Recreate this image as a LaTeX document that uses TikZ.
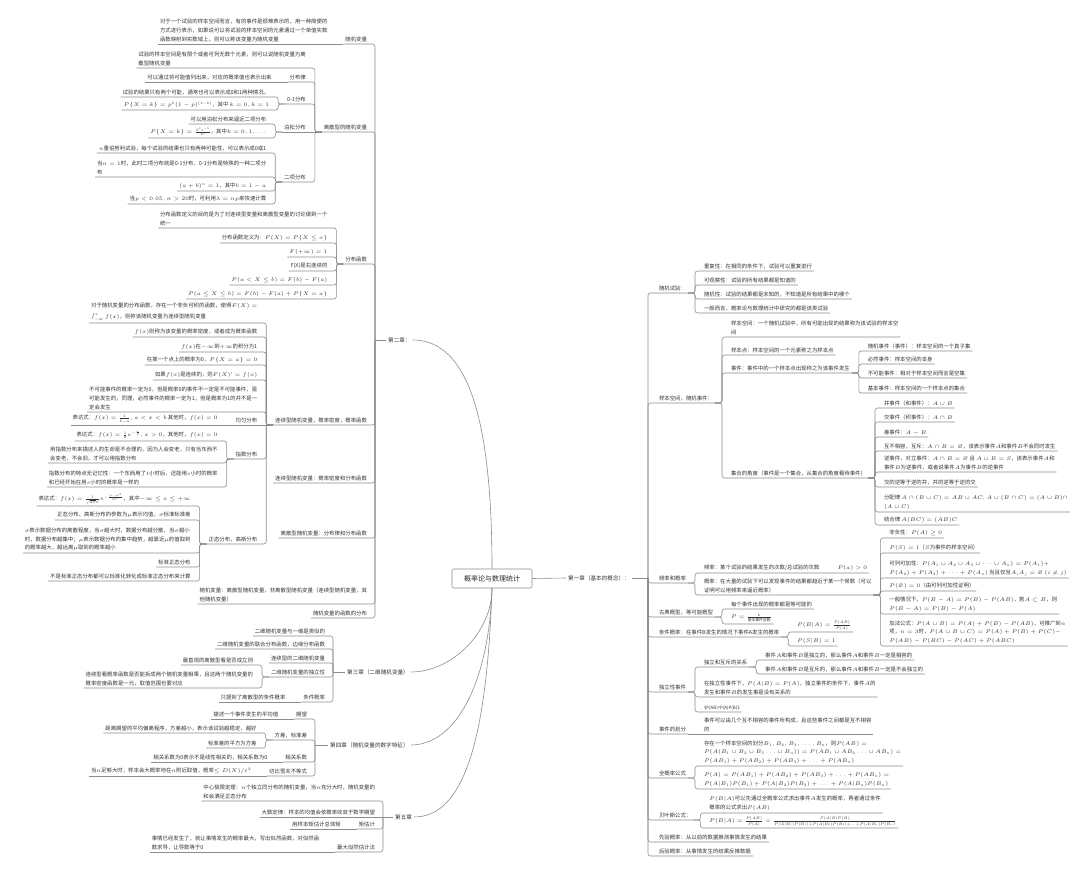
\RequirePackage{fix-cm}
\documentclass[tikz,border=0pt]{standalone}
\usepackage{amsmath}
\usepackage{amssymb}
\usepackage[no-math]{fontspec}
\setmainfont{Noto Sans CJK SC}
\usepackage{tikz}

\begin{document}
\begin{tikzpicture}[x=1pt,y=-1pt,
  leaf/.style={font=\fontsize{5.4}{8.8}\selectfont,text=black!80,inner sep=1.8pt,align=left},
  lk/.style={leaf,anchor=south east},
  rk/.style={leaf,anchor=south west},
  chap/.style={font=\fontsize{5.6}{7}\selectfont,text=black!80,inner sep=2pt,anchor=west},
  root/.style={draw=black!45,line width=0.6pt,rounded corners=2pt,font=\fontsize{7}{8}\selectfont,
               text=black!85,minimum width=80pt,minimum height=19pt},
  ln/.style={draw=black!45,line width=0.6pt,rounded corners=2.5pt}
]
\useasboundingbox (0,0) rectangle (1080,874);

%%%%%%%%%%%%%%%%%%%%%% centre %%%%%%%%%%%%%%%%%%%%%%%%%%%%%%%%%%%%%%%%%%%%%
\node[root] (root) at (492,578.5) {概率论与数理统计};

%%%%%%%%%%%%%%%%%%%%%% chapter 1 (right) %%%%%%%%%%%%%%%%%%%%%%%%%%%%%%%%%%%
\node[chap] (ch1) at (566,578) {第一章（基本的概念）：};
\coordinate (s1) at (648,578);
\draw[ln] (root.east) -- (ch1.west);
\draw[ln] (ch1.east) -- (s1);

\node[rk] (a) at (657,293) {随机试验：};
\node[rk,xshift=14pt] (a1) at (a.south east |- 0,271) {重复性：在相同的条件下，试验可以重复进行};
\node[rk,xshift=14pt] (a2) at (a.south east |- 0,285) {可观察性：试验的所有结果都是知道的};
\node[rk,xshift=14pt] (a3) at (a.south east |- 0,299) {随机性：试验的结果都是未知的，不知道是所有结果中的哪个};
\node[rk,xshift=14pt] (a4) at (a.south east |- 0,313) {一般而言，概率论与数理统计中研究的都是该类试验};

\node[rk] (b) at (657,403) {样本空间，随机事件：};
\node[rk,xshift=14pt] (b1) at (b.south east |- 0,337) {样本空间：一个随机试验中，所有可能出现的结果称为该试验的样本空\\间};
\node[rk,xshift=14pt] (b2) at (b.south east |- 0,355) {样本点：样本空间的一个元素称之为样本点};
\node[rk,xshift=14pt] (b3) at (b.south east |- 0,373) {事件：事件中的一个样本点出现称之为该事件发生};
\node[rk,xshift=14pt] (b31) at (b3.south east |- 0,351) {随机事件（事件）：样本空间的一个真子集};
\node[rk,xshift=14pt] (b32) at (b3.south east |- 0,364) {必然事件：样本空间的本身};
\node[rk,xshift=14pt] (b33) at (b3.south east |- 0,378) {不可能事件：相对于样本空间而言是空集};
\node[rk,xshift=14pt] (b34) at (b3.south east |- 0,393) {基本事件：样本空间的一个样本点的集合};
\node[rk,xshift=14pt] (b4) at (b.south east |- 0,478) {集合的角度（事件是一个集合，从集合的角度看待事件）};
\node[rk,xshift=14pt] (b41) at (b4.south east |- 0,408) {并事件（和事件）：$A\cup B$};
\node[rk,xshift=14pt] (b42) at (b4.south east |- 0,422) {交事件（积事件）：$A\cap B$};
\node[rk,xshift=14pt] (b43) at (b4.south east |- 0,437) {差事件：$A-B$};
\node[rk,xshift=14pt] (b44) at (b4.south east |- 0,451) {互不相容，互斥：$A\cap B=\varnothing$，该表示事件$A$和事件$B$不会同时发生};
\node[rk,xshift=14pt] (b45) at (b4.south east |- 0,472) {逆事件，对立事件：$A\cap B=\varnothing$ 且 $A\cup B=S$，该表示事件$A$和\\事件$B$为逆事件，或者说事件$A$为事件$B$的逆事件};
\node[rk,xshift=14pt] (b46) at (b4.south east |- 0,487) {交的逆等于逆的并，并的逆等于逆的交};
\node[rk,xshift=14pt] (b47) at (b4.south east |- 0,512) {分配律 $A\cap(B\cup C)=AB\cup AC,A\cup(B\cap C)=(A\cup B)\cap$\\$(A\cup C)$};
\node[rk,xshift=14pt] (b48) at (b4.south east |- 0,525) {结合律 $A(BC)=(AB)C$};

\node[rk] (c) at (657,583) {频率和概率};
\node[rk,xshift=14pt] (c1) at (c.south east |- 0,573) {频率：某个试验的结果发生的次数/总试验的次数\hspace{18pt}$P(a)>0$};
\node[rk,xshift=14pt] (c2) at (c.south east |- 0,595) {概率：在大量的试验下可以发现事件的结果都趋近于某一个常数（可以\\证明可以用频率来逼近概率）};
\node[rk,xshift=14pt] (c21) at (c2.south east |- 0,538) {非负性：$P(A)\ge 0$};
\node[rk,xshift=14pt] (c22) at (c2.south east |- 0,553) {$P(S)=1$（$S$为事件的样本空间）};
\node[rk,xshift=14pt] (c23) at (c2.south east |- 0,578) {可列可加性：$P(A_1\cup A_2\cup A_3\cup\cdots\cup A_n)=P(A_1)+$\\$P(A_2)+P(A_3)+\cdots+P(A_n)$ 当且仅当$A_iA_j=\varnothing\,(i\neq j)$};
\node[rk,xshift=14pt] (c24) at (c2.south east |- 0,591) {$P(\varnothing)=0$（由可列可加性证明）};
\node[rk,xshift=14pt] (c25) at (c2.south east |- 0,614) {一般情况下，$P(B-A)=P(B)-P(AB)$，若$A\subset B$，则\\$P(B-A)=P(B)-P(A)$};
\node[rk,xshift=14pt] (c26) at (c2.south east |- 0,646) {加法公式：$P(A\cup B)=P(A)+P(B)-P(AB)$，可推广到$n$\\项，$n=3$时，$P(A\cup B\cup C)=P(A)+P(B)+P(C)-$\\$P(AB)-P(BC)-P(AC)+P(ABC)$};

\node[rk] (d) at (657,617) {古典概型，等可能概型};
\node[rk,xshift=14pt] (d1) at (d.south east |- 0,609) {每个事件出现的概率都是等可能的};
\node[rk,xshift=14pt] (d2) at (d.south east |- 0,624) {$P=\frac{k}{\text{基本事件总数}}$};

\node[rk] (e) at (657,637) {条件概率：在事件B发生的情况下事件A发生的概率};
\node[rk,xshift=14pt] (e1) at (e.south east |- 0,632) {$P(B|A)=\frac{P(AB)}{P(A)}$};
\node[rk,xshift=14pt] (e2) at (e.south east |- 0,646) {$P(S|B)=1$};

\node[rk] (g) at (657,692) {独立性事件};
\node[rk,xshift=14pt] (g1) at (g.south east |- 0,667) {独立和互斥的关系};
\node[rk,xshift=14pt] (g11) at (g1.south east |- 0,660) {事件$A$和事件$B$是独立的，那么事件$A$和事件$B$一定是相容的};
\node[rk,xshift=14pt] (g12) at (g1.south east |- 0,674) {事件$A$和事件$B$是互斥的，那么事件$A$和事件$B$一定是不会独立的};
\node[rk,xshift=14pt] (g2) at (g.south east |- 0,697) {在独立性事件下，$P(A|B)=P(A)$，独立事件的条件下，事件$A$的\\发生和事件$B$的发生事是没有关系的};
\node[rk,xshift=14pt] (g3) at (g.south east |- 0,712) {\fontsize{4.4}{5}\selectfont\$P(AB)=P(A)P(B)\$};

\node[rk] (h) at (657,734) {事件的划分};
\node[rk,xshift=14pt] (h1) at (h.south east) {事件可以由几个互不相容的事件所构成，且这些事件之间都是互不相容\\的};

\node[rk] (k) at (657,778) {全概率公式};
\node[rk,xshift=14pt] (k1) at (k.south east |- 0,766) {存在一个样本空间的划分$B_1,B_2,B_3,\ldots,B_n$，则$P(AB)=$\\$P(A(B_1\cup B_2\cup B_3\ldots\cup B_n))=P(AB_1\cup AB_2\ldots\cup AB_n)=$\\$P(AB_1)+P(AB_2)+P(AB_3)+\ldots+P(AB_n)$};
\node[rk,xshift=14pt] (k2) at (k.south east |- 0,789) {$P(A)=P(AB_1)+P(AB_2)+P(AB_3)+\ldots+P(AB_n)=$\\$P(A|B_1)P(B_1)+P(A|B_2)P(B_2)+\ldots+P(A|B_n)P(B_n)$};

\node[rk] (m) at (657,820) {贝叶斯公式：};
\node[rk,xshift=14pt] (m1) at (m.south east |- 0,813) {$P(B|A)$可以先通过全概率公式求出事件$A$发生的概率，再者通过条件\\概率的公式求出$P(AB)$};
\node[rk,xshift=14pt] (m2) at (m.south east |- 0,828) {$P(B|A)=\frac{P(AB)}{P(A)}=\frac{P(A|B)P(B)}{P(A|B_1)P(B_1)+P(A|B_2)P(B_2)+\ldots+P(A|B_n)P(B_n)}$};

\node[rk] (n) at (657,842) {先验概率：从以前的数据推测事情发生的结果};
\node[rk] (o) at (657,856) {后验概率：从事情发生的结果反推数据};

\draw[ln] (s1) |- (a.south east);  \draw[ln] (s1) |- (b.south east);
\draw[ln] (s1) |- (c.south east);  \draw[ln] (s1) |- (d.south east);
\draw[ln] (s1) |- (e.south east);  \draw[ln] (s1) |- (g.south east);
\draw[ln] (s1) |- (h.south east);  \draw[ln] (s1) |- (k.south east);
\draw[ln] (s1) |- (m.south east);  \draw[ln] (s1) |- (n.south east);
\draw[ln] (s1) |- (o.south east);
\draw[ln] (a.south east) -- ++(7,0) |- (a1.south east);
\draw[ln] (a.south east) -- ++(7,0) |- (a2.south east);
\draw[ln] (a.south east) -- ++(7,0) |- (a3.south east);
\draw[ln] (a.south east) -- ++(7,0) |- (a4.south east);
\draw[ln] (b.south east) -- ++(7,0) |- (b1.south east);
\draw[ln] (b.south east) -- ++(7,0) |- (b2.south east);
\draw[ln] (b.south east) -- ++(7,0) |- (b3.south east);
\draw[ln] (b.south east) -- ++(7,0) |- (b4.south east);
\draw[ln] (b3.south east) -- ++(7,0) |- (b31.south east);
\draw[ln] (b3.south east) -- ++(7,0) |- (b32.south east);
\draw[ln] (b3.south east) -- ++(7,0) |- (b33.south east);
\draw[ln] (b3.south east) -- ++(7,0) |- (b34.south east);
\draw[ln] (b4.south east) -- ++(7,0) |- (b41.south east);
\draw[ln] (b4.south east) -- ++(7,0) |- (b42.south east);
\draw[ln] (b4.south east) -- ++(7,0) |- (b43.south east);
\draw[ln] (b4.south east) -- ++(7,0) |- (b44.south east);
\draw[ln] (b4.south east) -- ++(7,0) |- (b45.south east);
\draw[ln] (b4.south east) -- ++(7,0) |- (b46.south east);
\draw[ln] (b4.south east) -- ++(7,0) |- (b47.south east);
\draw[ln] (b4.south east) -- ++(7,0) |- (b48.south east);
\draw[ln] (c.south east) -- ++(7,0) |- (c1.south east);
\draw[ln] (c.south east) -- ++(7,0) |- (c2.south east);
\draw[ln] (c2.south east) -- ++(7,0) |- (c21.south east);
\draw[ln] (c2.south east) -- ++(7,0) |- (c22.south east);
\draw[ln] (c2.south east) -- ++(7,0) |- (c23.south east);
\draw[ln] (c2.south east) -- ++(7,0) |- (c24.south east);
\draw[ln] (c2.south east) -- ++(7,0) |- (c25.south east);
\draw[ln] (c2.south east) -- ++(7,0) |- (c26.south east);
\draw[ln] (d.south east) -- ++(7,0) |- (d1.south east);
\draw[ln] (d.south east) -- ++(7,0) |- (d2.south east);
\draw[ln] (e.south east) -- ++(7,0) |- (e1.south east);
\draw[ln] (e.south east) -- ++(7,0) |- (e2.south east);
\draw[ln] (g.south east) -- ++(7,0) |- (g1.south east);
\draw[ln] (g.south east) -- ++(7,0) |- (g2.south east);
\draw[ln] (g.south east) -- ++(7,0) |- (g3.south east);
\draw[ln] (g1.south east) -- ++(7,0) |- (g11.south east);
\draw[ln] (g1.south east) -- ++(7,0) |- (g12.south east);
\draw[ln] (h.south east) -- (h1.south east);
\draw[ln] (k.south east) -- ++(7,0) |- (k1.south east);
\draw[ln] (k.south east) -- ++(7,0) |- (k2.south east);
\draw[ln] (m.south east) -- ++(7,0) |- (m1.south east);
\draw[ln] (m.south east) -- ++(7,0) |- (m2.south east);

%%%%%%%%%%%%%%%%%%%%%% chapter 2 (left, top) %%%%%%%%%%%%%%%%%%%%%%%%%%%%%%
\node[chap] (ch2) at (386,340) {第二章：};
\coordinate (s2) at (375,340);
\draw[ln] (ch2.west) -- (s2);
\draw[ln] (root.north) .. controls +(0,-150) and +(55,0) .. (ch2.east);

\node[lk] (rv) at (369,44) {随机变量};
\node[lk,xshift=-14pt] (rv1) at (rv.south west) {对于一个试验的样本空间而言，有的事件是很难表示的，用一种简便的\\方式进行表示，如果说可以将试验的样本空间的元素通过一个单值实数\\函数映射到实数域上，则可以称该变量为随机变量};

\node[lk] (dis) at (369,132) {离散型的随机变量};
\node[lk,xshift=-14pt] (dis1) at (dis.south west |- 0,68) {试验的样本空间是有限个或者可列无数个元素，则可以说随机变量为离\\散型随机变量};
\node[lk,xshift=-14pt] (dis2) at (dis.south west |- 0,82) {分布律};
\node[lk,xshift=-14pt] (dis2a) at (dis2.south west) {可以通过将可能值列出来，对应的概率值也表示出来};
\node[lk,xshift=-14pt] (dis3) at (dis.south west |- 0,104) {0-1分布};
\node[lk,xshift=-14pt] (dis3a) at (dis3.south west |- 0,97) {试验的结果只有两个可能，通常也可以表示成0和1两种情况。};
\node[lk,xshift=-14pt] (dis3b) at (dis3.south west |- 0,110) {$P\{X=k\}=p^k(1-p)^{(1-k)}$，其中 $k=0,k=1$};
\node[lk,xshift=-14pt] (dis4) at (dis.south west) {泊松分布};
\node[lk,xshift=-14pt] (dis4a) at (dis4.south west |- 0,124) {可以用泊松分布来逼近二项分布};
\node[lk,xshift=-14pt] (dis4b) at (dis4.south west |- 0,138) {$P\{X=k\}=\frac{\lambda^k e^{-\lambda}}{k!}$，其中$k=0,1,\ldots$};
\node[lk,xshift=-14pt] (dis5) at (dis.south west |- 0,182) {二项分布};
\node[lk,xshift=-14pt] (dis5a) at (dis5.south west |- 0,153) {$n$重伯努利试验，每个试验的结果也只有两种可能性，可以表示成0或1};
\node[lk,xshift=-14pt] (dis5b) at (dis5.south west |- 0,177) {当$n=1$时，此时二项分布就是0-1分布，0-1分布是特殊的一种二项分\\布};
\node[lk,xshift=-14pt] (dis5c) at (dis5.south west |- 0,191) {$(a+b)^n=1$，其中$b=1-a$};
\node[lk,xshift=-14pt] (dis5d) at (dis5.south west |- 0,204) {当$p<0.05,n>20$时，可利用$\lambda=np$来快速计算};

\node[lk] (cdf) at (369,264) {分布函数};
\node[lk,xshift=-14pt] (cdf1) at (cdf.south west |- 0,228) {分布函数定义的目的是为了对连续型变量和离散型变量的讨论做到一个\\统一};
\node[lk,xshift=-14pt] (cdf2) at (cdf.south west |- 0,243) {分布函数定义为：$F(X)=P\{X\le x\}$};
\node[lk,xshift=-14pt] (cdf3) at (cdf.south west |- 0,257) {$F(+\infty)=1$};
\node[lk,xshift=-14pt] (cdf4) at (cdf.south west |- 0,271) {F(X)是右连续的};
\node[lk,xshift=-14pt] (cdf5) at (cdf.south west |- 0,285) {$P(a<X\le b)=F(b)-F(a)$};
\node[lk,xshift=-14pt] (cdf6) at (cdf.south west |- 0,299) {$P(a\le X\le b)=F(b)-F(a)+P\{X=a\}$};

\node[lk] (con) at (369,425) {连续型随机变量，概率密度，概率函数};
\node[lk,xshift=-14pt] (con1) at (con.south west |- 0,323) {对于随机变量的分布函数，存在一个非负可积的函数，使得$F(X)=$\\[1.5pt]$\int_{-\infty}^{x}f(x)$，则称该随机变量为连续型随机变量};
\node[lk,xshift=-14pt] (con2) at (con.south west |- 0,337) {$f(x)$则称为该变量的概率密度，或者成为概率函数};
\node[lk,xshift=-14pt] (con3) at (con.south west |- 0,352) {$f(x)$在$-\infty$到$+\infty$的积分为1};
\node[lk,xshift=-14pt] (con4) at (con.south west |- 0,365) {在某一个点上的概率为0，$P\{X=a\}=0$};
\node[lk,xshift=-14pt] (con5) at (con.south west |- 0,380) {如果$f(x)$是连续的，则$F(X)'=f(x)$};
\node[lk,xshift=-14pt] (con6) at (con.south west |- 0,412) {不可能事件的概率一定为0，但是概率0的事件不一定是不可能事件，是\\可能发生的，同理，必然事件的概率一定为1，但是概率为1的并不是一\\定会发生};
\node[lk,xshift=-14pt] (con7) at (con.south west) {均匀分布};
\node[lk,xshift=-14pt] (con7a) at (con7.south west) {表达式：$f(x)=\frac{1}{b-a},a<x<b$ 其他时，$f(x)=0$};
\node[lk,xshift=-14pt] (con8) at (con.south west |- 0,459) {指数分布};
\node[lk,xshift=-14pt] (con8a) at (con8.south west |- 0,441) {表达式：$f(x)=\frac{1}{\theta}e^{-\frac{x}{\theta}},x>0$，其他时，$f(x)=0$};
\node[lk,xshift=-14pt] (con8b) at (con8.south west |- 0,463) {用指数分布来描述人的生命是不合理的，因为人会变老，只有当东西不\\会变老，不会旧，才可以用指数分布};
\node[lk,xshift=-14pt] (con8c) at (con8.south west |- 0,487) {指数分布的特点无记忆性：一个东西用了$t$小时后，还能用$s$小时的概率\\和已经开始在用$s$小时的概率是一样的};
\node[lk,xshift=-14pt] (con9) at (con.south west |- 0,544) {正态分布，高斯分布};
\node[lk,xshift=-14pt] (con9a) at (con9.south west |- 0,506) {表达式：$f(x)=\frac{1}{\sqrt{2\pi}\sigma}e^{-\frac{(x-\mu)^2}{2\sigma^2}}$，其中$-\infty\le x\le+\infty$};
\node[lk,xshift=-14pt] (con9b) at (con9.south west |- 0,520) {正态分布、高斯分布的参数为$\mu$表示均值，$\sigma$标准标准差};
\node[lk,xshift=-14pt] (con9c) at (con9.south west |- 0,553) {$\sigma$表示数据分布的离散程度，当$\sigma$越大时，数据分布越分散，当$\sigma$越小\\时，数据分布越集中；$\mu$表示数据分布的集中趋势，越靠近$\mu$的值取到\\的概率越大，越远离$\mu$取到的概率越小};
\node[lk,xshift=-14pt] (con9d) at (con9.south west |- 0,567) {标准正态分布};
\node[lk,xshift=-14pt] (con9e) at (con9.south west |- 0,581) {不是标准正态分布都可以标准化转化成标准正态分布来计算};

\node[lk] (cden) at (369,483) {连续型随机变量：概率密度和分布函数};
\node[lk] (dlaw) at (369,538) {离散型随机变量：分布律和分布函数};
\node[lk] (rv2) at (369,604) {随机变量：离散型随机变量，非离散型随机变量（连续型随机变量，其\\他随机变量）};
\node[lk] (fn) at (369,618) {随机变量的函数的分布};

\draw[ln] (s2) |- (rv.south west);   \draw[ln] (s2) |- (dis.south west);
\draw[ln] (s2) |- (cdf.south west);  \draw[ln] (s2) |- (con.south west);
\draw[ln] (s2) |- (cden.south west); \draw[ln] (s2) |- (dlaw.south west);
\draw[ln] (s2) |- (rv2.south west);  \draw[ln] (s2) |- (fn.south west);
\draw[ln] (rv.south west) -- (rv1.south west);
\draw[ln] (dis.south west) -- ++(-7,0) |- (dis1.south west);
\draw[ln] (dis.south west) -- ++(-7,0) |- (dis2.south west);
\draw[ln] (dis.south west) -- ++(-7,0) |- (dis3.south west);
\draw[ln] (dis.south west) -- (dis4.south west);
\draw[ln] (dis.south west) -- ++(-7,0) |- (dis5.south west);
\draw[ln] (dis2.south west) -- (dis2a.south west);
\draw[ln] (dis3.south west) -- ++(-7,0) |- (dis3a.south west);
\draw[ln] (dis3.south west) -- ++(-7,0) |- (dis3b.south west);
\draw[ln] (dis4.south west) -- ++(-7,0) |- (dis4a.south west);
\draw[ln] (dis4.south west) -- ++(-7,0) |- (dis4b.south west);
\draw[ln] (dis5.south west) -- ++(-7,0) |- (dis5a.south west);
\draw[ln] (dis5.south west) -- ++(-7,0) |- (dis5b.south west);
\draw[ln] (dis5.south west) -- ++(-7,0) |- (dis5c.south west);
\draw[ln] (dis5.south west) -- ++(-7,0) |- (dis5d.south west);
\draw[ln] (cdf.south west) -- ++(-7,0) |- (cdf1.south west);
\draw[ln] (cdf.south west) -- ++(-7,0) |- (cdf2.south west);
\draw[ln] (cdf.south west) -- ++(-7,0) |- (cdf3.south west);
\draw[ln] (cdf.south west) -- ++(-7,0) |- (cdf4.south west);
\draw[ln] (cdf.south west) -- ++(-7,0) |- (cdf5.south west);
\draw[ln] (cdf.south west) -- ++(-7,0) |- (cdf6.south west);
\draw[ln] (con.south west) -- ++(-7,0) |- (con1.south west);
\draw[ln] (con.south west) -- ++(-7,0) |- (con2.south west);
\draw[ln] (con.south west) -- ++(-7,0) |- (con3.south west);
\draw[ln] (con.south west) -- ++(-7,0) |- (con4.south west);
\draw[ln] (con.south west) -- ++(-7,0) |- (con5.south west);
\draw[ln] (con.south west) -- ++(-7,0) |- (con6.south west);
\draw[ln] (con.south west) -- (con7.south west);
\draw[ln] (con.south west) -- ++(-7,0) |- (con8.south west);
\draw[ln] (con.south west) -- ++(-7,0) |- (con9.south west);
\draw[ln] (con7.south west) -- (con7a.south west);
\draw[ln] (con8.south west) -- ++(-7,0) |- (con8a.south west);
\draw[ln] (con8.south west) -- ++(-7,0) |- (con8b.south west);
\draw[ln] (con8.south west) -- ++(-7,0) |- (con8c.south west);
\draw[ln] (con9.south west) -- ++(-7,0) |- (con9a.south west);
\draw[ln] (con9.south west) -- ++(-7,0) |- (con9b.south west);
\draw[ln] (con9.south west) -- ++(-7,0) |- (con9c.south west);
\draw[ln] (con9.south west) -- ++(-7,0) |- (con9d.south west);
\draw[ln] (con9.south west) -- ++(-7,0) |- (con9e.south west);

%%%%%%%%%%%%%%%%%%%%%% chapter 3 %%%%%%%%%%%%%%%%%%%%%%%%%%%%%%%%%%%%%%%%%%
\node[chap] (ch3) at (345,672) {第三章（二维随机变量）};
\coordinate (s3) at (333,672);
\draw[ln] (ch3.west) -- (s3);
\draw[ln] (root.south) .. controls +(0,45) and +(40,0) .. (ch3.east);

\node[lk] (t1) at (327,636) {二维随机变量与一维是类似的};
\node[lk] (t2) at (327,649) {二维随机变量的联合分布函数，边缘分布函数};
\node[lk] (t3) at (327,663) {连续型的二维随机变量};
\node[lk] (t4) at (327,677) {二维随机变量的独立性};
\node[lk,xshift=-14pt] (t4a) at (t4.south west |- 0,665) {最直观的离散型看是否成立则};
\node[lk,xshift=-14pt] (t4b) at (t4.south west |- 0,688) {连续型看概率函数是否能拆成两个随机变量相乘，且这两个随机变量的\\概率密度函数是一元，取值范围也要对应};
\node[lk] (t5) at (327,702) {条件概率};
\node[lk,xshift=-14pt] (t5a) at (t5.south west) {只提到了离散型的条件概率};

\draw[ln] (s3) |- (t1.south west);  \draw[ln] (s3) |- (t2.south west);
\draw[ln] (s3) |- (t3.south west);  \draw[ln] (s3) |- (t4.south west);
\draw[ln] (s3) |- (t5.south west);
\draw[ln] (t4.south west) -- ++(-7,0) |- (t4a.south west);
\draw[ln] (t4.south west) -- ++(-7,0) |- (t4b.south west);
\draw[ln] (t5.south west) -- (t5a.south west);

%%%%%%%%%%%%%%%%%%%%%% chapter 4 %%%%%%%%%%%%%%%%%%%%%%%%%%%%%%%%%%%%%%%%%%
\node[chap] (ch4) at (328,745) {第四章（随机变量的数字特征）};
\coordinate (s4) at (315,745);
\draw[ln] (ch4.west) -- (s4);
\draw[ln] (root.south) .. controls +(-3,95) and +(45,0) .. (ch4.east);

\node[lk] (f1) at (309,719) {期望};
\node[lk,xshift=-14pt] (f1a) at (f1.south west) {描述一个事件发生的平均值};
\node[lk] (f2) at (309,740) {方差，标准差};
\node[lk,xshift=-14pt] (f2a) at (f2.south west |- 0,733) {距离期望的平均偏离程序，方差越小，表示该试验越稳定，越好};
\node[lk,xshift=-14pt] (f2b) at (f2.south west |- 0,748) {标准差的平方为方差};
\node[lk] (f3) at (309,762) {相关系数};
\node[lk,xshift=-14pt] (f3a) at (f3.south west) {相关系数为0表示不是线性相关的，相关系数为0};
\node[lk] (f4) at (309,776) {切比雪夫不等式};
\node[lk,xshift=-14pt] (f4a) at (f4.south west) {当$n$足够大时，样本会大概率地在$n$附近取值，概率$\le D(X)/\varepsilon^2$};

\draw[ln] (s4) |- (f1.south west);  \draw[ln] (s4) |- (f2.south west);
\draw[ln] (s4) |- (f3.south west);  \draw[ln] (s4) |- (f4.south west);
\draw[ln] (f1.south west) -- (f1a.south west);
\draw[ln] (f2.south west) -- ++(-7,0) |- (f2a.south west);
\draw[ln] (f2.south west) -- ++(-7,0) |- (f2b.south west);
\draw[ln] (f3.south west) -- (f3a.south west);
\draw[ln] (f4.south west) -- (f4a.south west);

%%%%%%%%%%%%%%%%%%%%%% chapter 5 %%%%%%%%%%%%%%%%%%%%%%%%%%%%%%%%%%%%%%%%%%
\node[chap] (ch5) at (393,817) {第五章};
\coordinate (s5) at (383,817);
\draw[ln] (ch5.west) -- (s5);
\draw[ln] (root.south) .. controls +(-5,150) and +(50,0) .. (ch5.east);

\node[lk] (v1) at (377,801) {中心极限定理：$n$个独立同分布的随机变量，当$n$充分大时，随机变量的\\和会满足正态分布};
\node[lk] (v2) at (377,817) {大数定律：样本的均值会依概率收敛于数学期望};
\node[lk] (v3) at (377,829) {矩估计};
\node[lk,xshift=-14pt] (v3a) at (v3.south west) {用样本矩估计总体矩};
\node[lk] (v4) at (377,852) {最大似然估计法};
\node[lk,xshift=-14pt] (v4a) at (v4.south west) {事情已经发生了，就让事情发生的概率最大，写出似然函数，对似然函\\数求导，让导数等于0};

\draw[ln] (s5) |- (v1.south west);  \draw[ln] (s5) -- (v2.south west);
\draw[ln] (s5) |- (v3.south west);  \draw[ln] (s5) |- (v4.south west);
\draw[ln] (v3.south west) -- (v3a.south west);
\draw[ln] (v4.south west) -- (v4a.south west);
\end{tikzpicture}
\end{document}
